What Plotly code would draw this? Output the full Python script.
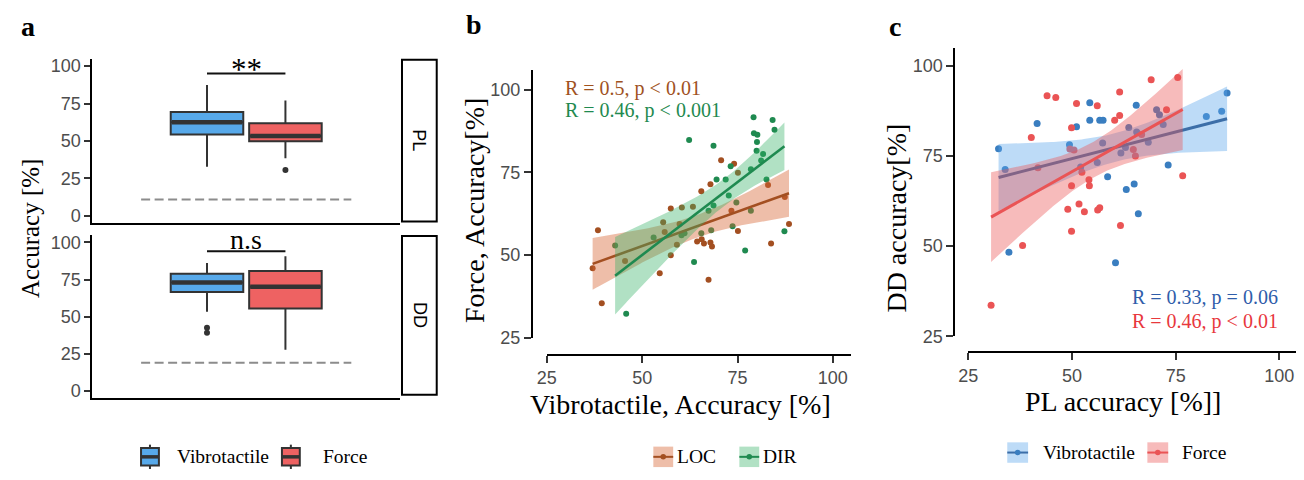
import numpy as np
import plotly.graph_objects as go

# The page body keeps the browser's 8px margin, so the figure is sized to fill
# the 1304x480 window exactly together with that margin.
W, H = 1304, 480
BODY = 8
FW, FH = W - 2 * BODY, H - 2 * BODY
def px(x): return (x - BODY) / FW
def py(y): return 1 - (y - BODY) / FH

SERIF = "Liberation Serif"
SANS = "Liberation Sans"

# ---------------- panel a : box summaries ----------------
groups = ["Vibrotactile", "Force"]
pl_q1 = [54.4, 49.8]
pl_median = [62.5, 53.4]
pl_q3 = [69.4, 61.8]
pl_lower = [32.8, 38.5]
pl_upper = [87.5, 77.0]
pl_outliers = [[], [30.7]]
dd_q1 = [66.7, 55.6]
dd_median = [73.0, 70.1]
dd_q3 = [79.0, 80.7]
dd_lower = [53.4, 27.8]
dd_upper = [86.2, 90.7]
dd_outliers = [[42.6, 39.2], []]
chance_level = [11.0, 19.0]
sig_labels = ["**", "n.s"]
sig_y = [95.1, 94.0]
facet_labels = ["PL", "DD"]
a_ticks = [0, 25, 50, 75, 100]

# ---------------- panel b : Vibrotactile vs Force ----------------
loc_x = [70.7, 74.1, 67.9, 65.5, 38.4, 73.4, 87.4, 88.5, 75.1, 83.8, 64.4, 65.6, 66.2, 67.9, 68.3,
         37.0, 54.6, 57.5, 67.4, 39.4, 75.1, 83.0, 60.4, 63.3, 57.5, 55.5, 59.8, 55.9, 59.1, 45.5]
loc_y = [78.7, 77.6, 71.4, 69.3, 57.5, 63.4, 67.6, 59.4, 57.3, 53.5, 54.1, 54.8, 53.5, 53.8, 52.6,
         46.0, 44.5, 49.9, 42.5, 35.4, 74.9, 71.2, 64.4, 64.6, 64.1, 59.9, 59.4, 57.0, 53.1, 48.2]
dir_x = [79.2, 84.2, 84.7, 79.3, 80.2, 80.1, 62.3, 68.7, 80.0, 81.7, 81.2, 73.2, 78.5, 82.6, 69.5, 71.9,
         72.7, 74.7, 68.7, 67.4, 87.3, 73.7, 77.0, 63.6, 45.8, 42.9, 78.5, 68.1, 65.5, 60.3, 61.1, 53.0]
dir_y = [91.7, 90.9, 87.9, 86.9, 86.4, 84.2, 84.8, 83.1, 81.6, 80.6, 78.6, 76.9, 76.0, 72.9, 72.9, 72.9,
         68.0, 65.9, 65.0, 63.4, 57.2, 58.7, 51.4, 47.9, 32.2, 52.9, 63.4, 57.5, 56.6, 56.0, 56.6, 55.3]
b_labels = ["LOC", "DIR"]
b_stats = ["R = 0.5, p < 0.01", "R = 0.46, p < 0.001"]
b_ticks = [25, 50, 75, 100]

# ---------------- panel c : PL vs DD ----------------
vib_pl = [54.3, 41.6, 51.1, 54.3, 56.7, 57.5, 32.3, 49.4, 33.9, 58.6, 63.1, 34.8, 60.5, 65.0, 65.5, 66.0,
          73.2, 82.4, 86.1, 87.4, 57.4, 56.1, 61.8, 62.9, 63.7, 65.6, 68.4, 70.4, 71.1, 72.0, 52.1]
vib_dd = [89.7, 84.0, 83.1, 84.9, 84.9, 84.9, 77.0, 78.1, 71.2, 69.2, 65.7, 48.3, 45.4, 67.2, 89.0, 59.0,
          72.5, 85.9, 87.4, 92.4, 78.6, 73.2, 75.8, 77.3, 82.9, 81.6, 78.8, 87.8, 86.4, 83.7, 71.9]
force_pl = [61.5, 44.0, 46.1, 51.1, 56.1, 60.3, 61.5, 49.9, 40.2, 49.5, 50.5, 41.8, 52.4, 54.1, 54.2, 49.9,
            51.7, 49.0, 53.0, 56.2, 56.7, 61.7, 49.9, 38.1, 30.5, 64.8, 65.3, 66.8, 69.1, 72.8, 75.5, 76.7]
force_dd = [92.7, 91.7, 91.2, 89.5, 88.9, 84.9, 86.2, 82.8, 80.1, 76.9, 76.6, 71.7, 70.5, 68.4, 66.7, 66.7,
            61.7, 60.2, 59.5, 60.0, 60.6, 55.7, 54.1, 50.2, 33.6, 76.8, 75.0, 80.9, 96.1, 87.8, 96.7, 69.5]
c_labels = ["Vibrotactile", "Force"]
c_stats = ["R = 0.33, p = 0.06", "R = 0.46, p < 0.01"]
c_ticks = [25, 50, 75, 100]

# ---------------- styles ----------------
box_fill = ["#57A9EA", "#EE6262"]
box_line = "#333333"
b_point = ["#A34F21", "#1F8A50"]
b_line = ["#A34F21", "#1F8A50"]
b_band = ["rgba(215,100,50,0.42)", "rgba(50,175,100,0.38)"]
b_text = ["#A0521E", "#1F8A50"]
c_point = ["#3A7EC0", "#EA5455"]
c_line = ["#3C6EA8", "#EA5455"]
c_band = ["rgba(90,165,235,0.40)", "rgba(235,85,85,0.40)"]
c_text = ["#2F5DAA", "#E8383D"]
tick_font = dict(family=SANS, size=18, color="#4D4D4D")


def t975(df):
    z = 1.959964
    return (z + (z**3 + z) / (4 * df) + (5 * z**5 + 16 * z**3 + 3 * z) / (96 * df**2)
            + (3 * z**7 + 19 * z**5 + 17 * z**3 - 15 * z) / (384 * df**3))


def fit_band(x, y, n_grid=100):
    x = np.asarray(x, float)
    y = np.asarray(y, float)
    n = len(x)
    slope, icpt = np.polyfit(x, y, 1)
    xg = np.linspace(x.min(), x.max(), n_grid)
    yg = icpt + slope * xg
    resid = y - (icpt + slope * x)
    s = np.sqrt(np.sum(resid**2) / (n - 2))
    sxx = np.sum((x - x.mean())**2)
    se = s * np.sqrt(1.0 / n + (xg - x.mean())**2 / sxx)
    t = t975(n - 2)
    return xg, yg, yg - t * se, yg + t * se


fig = go.Figure()

# ---------------- panel a traces ----------------
a_center = 1.0
a_dodge = 0.153
box_w = 0.283
a_pos = [a_center - a_dodge, a_center + a_dodge]
facets = [
    (pl_q1, pl_median, pl_q3, pl_lower, pl_upper, pl_outliers, "x", "y"),
    (dd_q1, dd_median, dd_q3, dd_lower, dd_upper, dd_outliers, "x2", "y2"),
]
for f, (q1, med, q3, lo, hi, outl, xa, ya) in enumerate(facets):
    fig.add_trace(go.Scatter(x=[a_center - 0.41, a_center + 0.41], y=[chance_level[f]] * 2, mode="lines",
                             line=dict(color="#8C8C8C", width=2, dash="9px,4.5px"),
                             xaxis=xa, yaxis=ya, showlegend=False, hoverinfo="skip"))
    for i, g in enumerate(groups):
        fig.add_trace(go.Box(x=[a_pos[i]], q1=[q1[i]], median=[med[i]], q3=[q3[i]],
                             lowerfence=[lo[i]], upperfence=[hi[i]], width=box_w,
                             fillcolor=box_fill[i], line=dict(color=box_line, width=2),
                             whiskerwidth=0, boxpoints=False, name=g,
                             xaxis=xa, yaxis=ya, showlegend=False, hoverinfo="skip"))
        fig.add_trace(go.Scatter(x=[a_pos[i] - box_w / 2 + 0.004, a_pos[i] + box_w / 2 - 0.004],
                                 y=[med[i], med[i]], mode="lines",
                                 line=dict(color=box_line, width=4.5),
                                 xaxis=xa, yaxis=ya, showlegend=False, hoverinfo="skip"))
        if outl[i]:
            fig.add_trace(go.Scatter(x=[a_pos[i]] * len(outl[i]), y=outl[i], mode="markers",
                                     marker=dict(color=box_line, size=6),
                                     xaxis=xa, yaxis=ya, showlegend=False, hoverinfo="skip"))
    fig.add_trace(go.Scatter(x=a_pos, y=[sig_y[f]] * 2, mode="lines",
                             line=dict(color="#111111", width=2),
                             xaxis=xa, yaxis=ya, showlegend=False, hoverinfo="skip"))

# ---------------- panel b traces ----------------
b_sets = [(loc_x, loc_y), (dir_x, dir_y)]
for i, (xs, ys) in enumerate(b_sets):
    fig.add_trace(go.Scatter(x=xs, y=ys, mode="markers", marker=dict(color=b_point[i], size=6),
                             xaxis="x3", yaxis="y3", showlegend=False, hoverinfo="skip"))
for i, (xs, ys) in enumerate(b_sets):
    xg, yg, lo, hi = fit_band(xs, ys)
    fig.add_trace(go.Scatter(x=np.concatenate([xg, xg[::-1]]), y=np.concatenate([hi, lo[::-1]]),
                             fill="toself", fillcolor=b_band[i], line=dict(width=0), mode="lines",
                             xaxis="x3", yaxis="y3", showlegend=False, hoverinfo="skip"))
    fig.add_trace(go.Scatter(x=xg, y=yg, mode="lines", line=dict(color=b_line[i], width=2.6),
                             xaxis="x3", yaxis="y3", showlegend=False, hoverinfo="skip"))

# ---------------- panel c traces ----------------
c_sets = [(vib_pl, vib_dd), (force_pl, force_dd)]
for i, (xs, ys) in enumerate(c_sets):
    fig.add_trace(go.Scatter(x=xs, y=ys, mode="markers", marker=dict(color=c_point[i], size=7),
                             xaxis="x4", yaxis="y4", showlegend=False, hoverinfo="skip"))
for i, (xs, ys) in enumerate(c_sets):
    xg, yg, lo, hi = fit_band(xs, ys)
    fig.add_trace(go.Scatter(x=np.concatenate([xg, xg[::-1]]), y=np.concatenate([hi, lo[::-1]]),
                             fill="toself", fillcolor=c_band[i], line=dict(width=0), mode="lines",
                             xaxis="x4", yaxis="y4", showlegend=False, hoverinfo="skip"))
    fig.add_trace(go.Scatter(x=xg, y=yg, mode="lines", line=dict(color=c_line[i], width=3),
                             xaxis="x4", yaxis="y4", showlegend=False, hoverinfo="skip"))

# ---------------- axes ----------------
axis_common = dict(showgrid=False, zeroline=False, showline=True, linecolor="#000000", linewidth=2,
                   ticks="outside", tickcolor="#333333", tickwidth=1.5, tickfont=tick_font)

# panel c x axis: 25 at x=965.7 px, 104.5 px per 25 units; right end clipped to the figure edge
c_x0, c_x1 = 965.7, min(1299.0, BODY + FW)
c_xmax = 25 + (c_x1 - c_x0) / 104.5 * 25

a_x = dict(axis_common, domain=[px(83), px(393)], range=[0.4, 1.6], showticklabels=False, ticks="")
fig.update_layout(
    xaxis=dict(a_x, anchor="y"),
    yaxis=dict(axis_common, domain=[py(227), py(58)], range=[-5, 105], tickvals=a_ticks, ticklen=6,
               anchor="x"),
    xaxis2=dict(a_x, anchor="y2"),
    yaxis2=dict(axis_common, domain=[py(406.7), py(239)], range=[-5, 105], tickvals=a_ticks, ticklen=6,
                anchor="x2"),
    xaxis3=dict(axis_common, domain=[px(541), px(847.3)], range=[25, 104.7], tickvals=b_ticks,
                ticklen=7, anchor="free", position=py(362)),
    yaxis3=dict(axis_common, domain=[py(344.3), py(69.3)], range=[25, 106.1], tickvals=b_ticks,
                ticklen=7, anchor="free", position=px(526)),
    xaxis4=dict(axis_common, domain=[px(c_x0), min(1.0, px(c_x1))], range=[25, c_xmax],
                tickvals=c_ticks, ticklen=7, anchor="free", position=py(359)),
    yaxis4=dict(axis_common, domain=[py(343), py(47)], range=[25, 104.9], tickvals=c_ticks,
                ticklen=7, anchor="free", position=px(951.7)),
)

annotations = []
shapes = []


def ann(text, x, y, size, family=SERIF, color="#000000", xanchor="center", yanchor="middle",
        angle=0, bold=False, xref="paper", yref="paper", yshift=0):
    if bold:
        text = "<b>" + text + "</b>"
    annotations.append(dict(text=text, x=x, y=y, xref=xref, yref=yref, showarrow=False,
                            xanchor=xanchor, yanchor=yanchor, textangle=angle, yshift=yshift,
                            font=dict(family=family, size=size, color=color)))


# panel letters
ann("a", px(18), py(25), 28, bold=True)
ann("b", px(468), py(23), 28, bold=True)
ann("c", px(892), py(25), 28, bold=True)

# panel a texts
ann("Accuracy [%]", px(20), py(232), 25, angle=-90)
sig_size = [31, 28]
sig_shift = [-15, -6]
for f, ya in enumerate(["y", "y2"]):
    ann(sig_labels[f], a_center, sig_y[f], sig_size[f], xref="x" if f == 0 else "x2", yref=ya,
        yanchor="bottom", yshift=sig_shift[f])
strip_y = [(59, 225), (240, 403)]
for f, (t0, t1) in enumerate(strip_y):
    shapes.append(dict(type="rect", xref="paper", yref="paper", x0=px(395), x1=px(430),
                       y0=py(t1), y1=py(t0), line=dict(color="#000000", width=2),
                       fillcolor="#FFFFFF", layer="above"))
    ann(facet_labels[f], px(412.5), py((t0 + t1) / 2), 18, family=SANS, angle=90)

# panel b texts
ann("Vibrotactile, Accuracy [%]", px(676), py(413), 28)
ann("Force, Accuracy[%]", px(468), py(214), 28, angle=-90)
ann(b_stats[0], 29.2, 100.5, 20, color=b_text[0], xanchor="left", xref="x3", yref="y3")
ann(b_stats[1], 29.2, 93.8, 20, color=b_text[1], xanchor="left", xref="x3", yref="y3")

# panel c texts
ann("PL accuracy [%]]", px(1122), py(410), 28)
ann("DD accuracy[%]", px(893), py(222), 28, angle=-90)
ann(c_stats[0], 100.2, 35.8, 20, color=c_text[0], xanchor="right", xref="x4", yref="y4")
ann(c_stats[1], 100.2, 29.1, 20, color=c_text[1], xanchor="right", xref="x4", yref="y4")


# ---------------- legends (drawn keys) ----------------
def seg(x0, y0, x1, y1, color, width):
    shapes.append(dict(type="line", xref="paper", yref="paper", x0=px(x0), y0=py(y0), x1=px(x1),
                       y1=py(y1), line=dict(color=color, width=width)))


def rect(x0, y0, x1, y1, fill, line_color=None, lw=0):
    shapes.append(dict(type="rect", xref="paper", yref="paper", x0=px(x0), y0=py(y1), x1=px(x1),
                       y1=py(y0), fillcolor=fill,
                       line=dict(color=line_color or "rgba(0,0,0,0)", width=lw)))


def dot(cx, cy, r, color):
    shapes.append(dict(type="circle", xref="paper", yref="paper", x0=px(cx - r), x1=px(cx + r),
                       y0=py(cy + r), y1=py(cy - r), fillcolor=color, line=dict(width=0)))


leg_a_icon = [141, 283]
leg_a_text = [166.7, 313]
leg_a_y = 466.7
for i, g in enumerate(groups):
    cx = leg_a_icon[i]
    seg(cx, leg_a_y - 12.5, cx, leg_a_y + 12.5, box_line, 2)
    rect(cx - 9, leg_a_y - 9, cx + 9, leg_a_y + 9, box_fill[i], box_line, 2)
    seg(cx - 9, leg_a_y, cx + 9, leg_a_y, box_line, 3.5)
    ann(g, px(leg_a_text[i]), py(leg_a_y), 19.5, xanchor="left")

leg_b_icon = [658.3, 745]
leg_b_text = [670, 757]
leg_b_y = 466.7
for i, g in enumerate(b_labels):
    cx = leg_b_icon[i]
    rect(cx - 10, leg_b_y - 10.5, cx + 10, leg_b_y + 10.5, b_band[i])
    seg(cx - 10, leg_b_y, cx + 10, leg_b_y, b_line[i], 2)
    dot(cx, leg_b_y, 2.8, b_point[i])
    ann(g, px(leg_b_text[i]), py(leg_b_y), 19.5, xanchor="left")

leg_c_icon = [1015.5, 1156.7]
leg_c_text = [1039.3, 1179.3]
leg_c_y = 462.3
for i, g in enumerate(c_labels):
    cx = leg_c_icon[i]
    rect(cx - 10.5, leg_c_y - 10.5, cx + 10.5, leg_c_y + 10.5, c_band[i])
    seg(cx - 10.5, leg_c_y, cx + 10.5, leg_c_y, c_line[i], 2)
    dot(cx, leg_c_y, 2.8, c_point[i])
    ann(g, px(leg_c_text[i]), py(leg_c_y), 19.5, xanchor="left")

fig.update_layout(width=FW, height=FH, margin=dict(l=0, r=0, t=0, b=0),
                  paper_bgcolor="#FFFFFF", plot_bgcolor="rgba(0,0,0,0)",
                  annotations=annotations, shapes=shapes, showlegend=False)

fig.write_html("out.html", config={"displayModeBar": False})
